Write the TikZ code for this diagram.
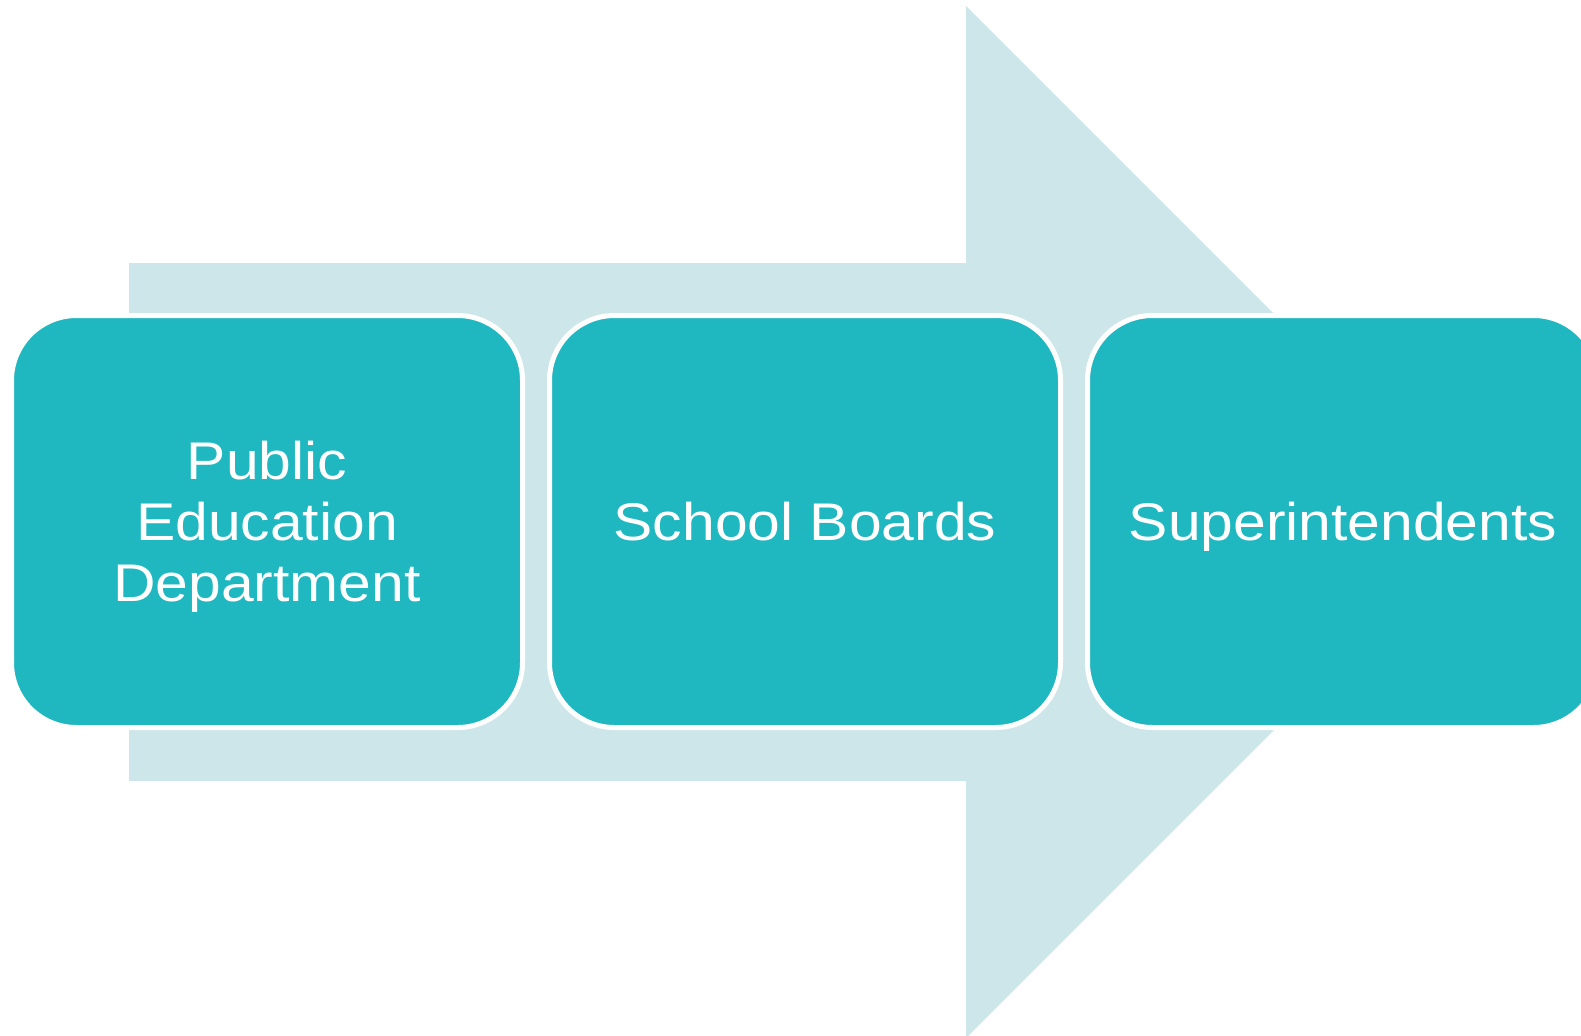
\documentclass[tikz,border=0pt]{standalone}
\usepackage{fontspec}
\setmainfont[FakeStretch=1.11]{Liberation Sans}
\definecolor{stagefill}{RGB}{31,183,192}
\definecolor{arrowfill}{RGB}{205,230,234}
\begin{document}
\begin{tikzpicture}[x=0.5pt,y=-0.5pt,
    stage/.style={rectangle, rounded corners=32.5pt, fill=stagefill, draw=white,
        line width=2.5pt, minimum width=255.5pt, minimum height=206pt,
        text=white, align=center, text depth=0pt,
        font=\fontsize{26.5}{30.5}\selectfont}]
        % Fix the page size
        \useasboundingbox (0,0) rectangle (1581,1035);

        % Draw the big background arrow
        \fill[arrowfill] (129,263) -- (966,263) -- (966,6) -- (1482,522)
            -- (966,1038) -- (966,781) -- (129,781) -- cycle;

        % Draw the three stages
        \node[stage] (pub) at (267,521.5) {Public\\Education\\Department};
        \node[stage] (board) at (805,521.5) {School Boards};
        \node[stage] (super) at (1343,521.5) {Superintendents};
    \end{tikzpicture}
\end{document}
